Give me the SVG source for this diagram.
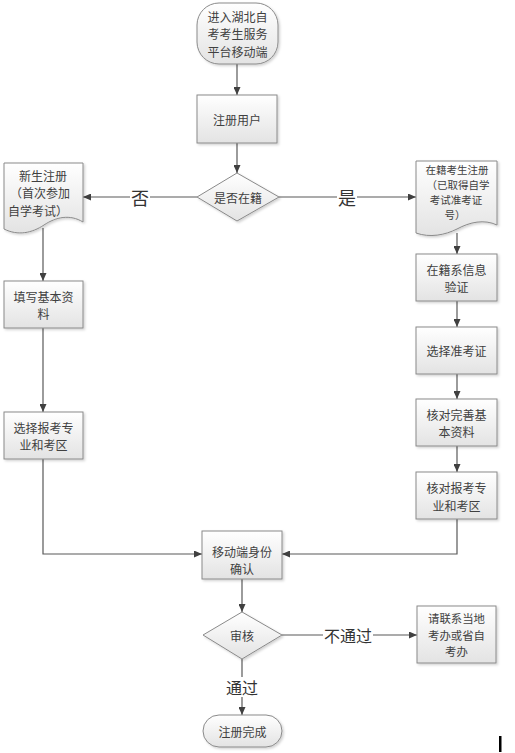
<svg xmlns="http://www.w3.org/2000/svg" width="515" height="753" viewBox="0 0 515 753">
<defs>
<linearGradient id="g" x1="0" y1="0" x2="0" y2="1">
<stop offset="0" stop-color="#ffffff"/>
<stop offset="1" stop-color="#e3e3e3"/>
</linearGradient>
<filter id="sh" x="-10%" y="-10%" width="130%" height="130%">
<feDropShadow dx="1.5" dy="1.5" stdDeviation="1" flood-color="#000" flood-opacity="0.18"/>
</filter>
<marker id="ah" markerWidth="8" markerHeight="7" refX="8" refY="3.5" orient="auto" markerUnits="userSpaceOnUse">
<path d="M0,0 L8,3.5 L0,7 Z" fill="#404040"/>
</marker>
</defs>
<style>
.n{fill:url(#g);stroke:#8a8a8a;stroke-width:1;filter:url(#sh)}
.t{font-family:"Noto Sans CJK SC","Liberation Sans",sans-serif;font-size:12px;fill:#404040;text-anchor:middle;dominant-baseline:central}
.s{font-size:10.5px}
.m{font-size:11.4px}
.c{fill:none;stroke:#595959;stroke-width:1.2}
.a{marker-end:url(#ah)}
.l{font-family:"Noto Sans CJK SC","Liberation Sans",sans-serif;fill:#333;text-anchor:middle;dominant-baseline:central}
</style>
<rect width="515" height="753" fill="#fff"/>

<g id="connectors">
<path class="c a" d="M237,64 V95"/>
<path class="c a" d="M237,143 V173"/>
<path class="c a" d="M197,197 H83"/>
<path class="c a" d="M279,197 H416"/>
<path class="c a" d="M43,228 V281"/>
<path class="c a" d="M43,328 V412"/>
<path class="c a" d="M43,459 V554 H202"/>
<path class="c a" d="M457,233 V254"/>
<path class="c a" d="M457,301 V327"/>
<path class="c a" d="M457,374 V399"/>
<path class="c a" d="M457,446 V472"/>
<path class="c a" d="M457,519 V554 H282"/>
<path class="c a" d="M242,579 V612"/>
<path class="c a" d="M282,635 H417"/>
<path class="c a" d="M242,659 V715"/>
<rect x="130" y="187" width="20" height="20" fill="#fff"/>
<text class="l" x="140" y="197" font-size="18">否</text>
<rect x="337" y="187" width="20" height="20" fill="#fff"/>
<text class="l" x="347" y="197" font-size="18">是</text>
<rect x="323" y="625" width="50" height="20" fill="#fff"/>
<text class="l" x="348" y="635" font-size="16">不通过</text>
<rect x="225" y="677" width="34" height="20" fill="#fff"/>
<text class="l" x="242" y="687" font-size="16">通过</text>
</g>

<g id="start">
<rect class="n" x="197" y="3" width="81" height="61" rx="22" ry="22"/>
<text class="t" x="237.5" y="16">进入湖北自</text>
<text class="t" x="237.5" y="33.5">考考生服务</text>
<text class="t" x="237.5" y="51">平台移动端</text>
</g>

<g id="register">
<rect class="n" x="197" y="95" width="80" height="48"/>
<text class="t" x="237" y="119">注册用户</text>
</g>

<g id="decision1">
<path class="n" d="M237,173 L279,197 L237,221 L197,197 Z"/>
<text class="t" x="238" y="197">是否在籍</text>
</g>

<g id="newStudent">
<path class="n" d="M4,163 H83 V222 C70,214 56,217 44,225 C32,233 18,236 4,229 Z"/>
<text class="t" x="43" y="175">新生注册</text>
<text class="t" x="40" y="192.5">（首次参加</text>
<text class="t" x="38" y="210">自学考试）</text>
</g>

<g id="enrolled">
<path class="n" d="M416,161 H497 V225 C484,219 470,222 457,229 C445,235 430,238 416,233 Z"/>
<text class="t s" x="457" y="169">在籍考生注册</text>
<text class="t s" x="458" y="184.3">（已取得自学</text>
<text class="t s" x="456" y="199.6">考试准考证</text>
<text class="t s" x="455" y="214.9">号）</text>
</g>

<g id="fillInfo">
<rect class="n" x="4" y="281" width="79" height="47"/>
<text class="t" x="43.5" y="296">填写基本资</text>
<text class="t" x="43.5" y="313.5">料</text>
</g>

<g id="chooseMajorL">
<rect class="n" x="4" y="412" width="79" height="47"/>
<text class="t" x="43.5" y="427">选择报考专</text>
<text class="t" x="43.5" y="444.5">业和考区</text>
</g>

<g id="verifyInfo">
<rect class="n" x="416" y="254" width="81" height="47"/>
<text class="t" x="456.5" y="269">在籍系信息</text>
<text class="t" x="456.5" y="286.5">验证</text>
</g>

<g id="chooseTicket">
<rect class="n" x="416" y="327" width="81" height="47"/>
<text class="t" x="456.5" y="350">选择准考证</text>
</g>

<g id="checkInfo">
<rect class="n" x="416" y="399" width="81" height="47"/>
<text class="t" x="456.5" y="414">核对完善基</text>
<text class="t" x="456.5" y="431.5">本资料</text>
</g>

<g id="checkMajor">
<rect class="n" x="416" y="472" width="81" height="47"/>
<text class="t" x="456.5" y="487.5">核对报考专</text>
<text class="t" x="456.5" y="505">业和考区</text>
</g>

<g id="identity">
<rect class="n" x="202" y="531" width="80" height="48"/>
<text class="t" x="242" y="551">移动端身份</text>
<text class="t" x="242" y="568.5">确认</text>
</g>

<g id="decision2">
<path class="n" d="M242,612 L282,635 L242,659 L203,635 Z"/>
<text class="t" x="242" y="635">审核</text>
</g>

<g id="contact">
<rect class="n" x="417" y="606" width="79" height="57"/>
<text class="t m" x="456.5" y="618">请联系当地</text>
<text class="t m" x="456.5" y="634.7">考办或省自</text>
<text class="t m" x="456.5" y="651.4">考办</text>
</g>

<g id="end">
<rect class="n" x="203" y="715" width="79" height="32" rx="16" ry="16"/>
<text class="t" x="242.5" y="731">注册完成</text>
</g>

<rect x="499" y="736" width="2.5" height="16" fill="#000"/>
</svg>
